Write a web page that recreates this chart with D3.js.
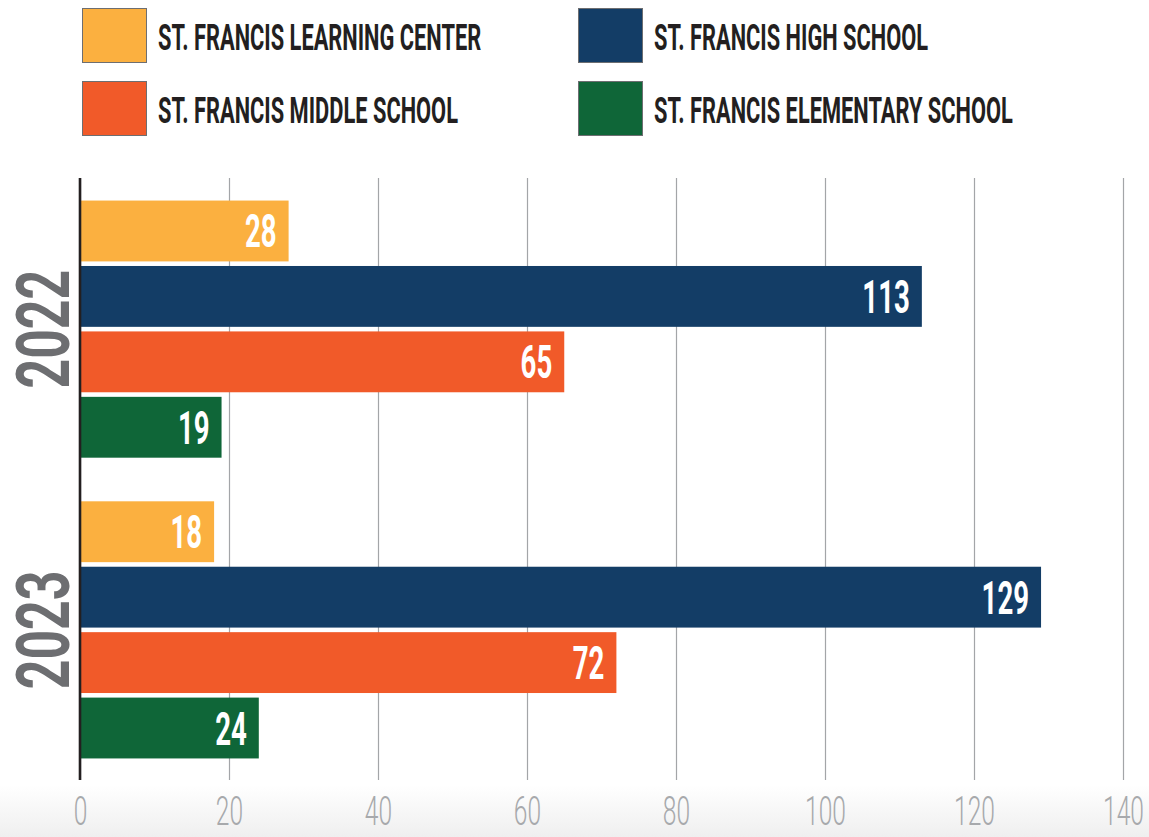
<!DOCTYPE html>
<html>
<head>
<meta charset="utf-8">
<script src="https://cdn.jsdelivr.net/npm/d3@7"></script>
<style>
  html, body { margin: 0; padding: 0; background: #ffffff; }
  svg { display: block; }
</style>
</head>
<body>
<svg id="chart" width="1149" height="837"></svg>
<script>
// chart data
const years = ["2022", "2023"];
const schools = [
  "ST. FRANCIS LEARNING CENTER",
  "ST. FRANCIS HIGH SCHOOL",
  "ST. FRANCIS MIDDLE SCHOOL",
  "ST. FRANCIS ELEMENTARY SCHOOL"
];
const values2022 = [28, 113, 65, 19];
const values2023 = [18, 129, 72, 24];
const xTicks = [0, 20, 40, 60, 80, 100, 120, 140];
const colors = ["#fbb040", "#133d66", "#f15a29", "#0f6638"];

const ctx = {
  width: 1149,
  height: 837,
  left: 80,
  right: 1123,
  top: 178,
  bottom: 780,
  font: "Roboto, 'Open Sans', sans-serif"
};

const svg = d3.select("#chart");

// soft grey fade at the very bottom
const defs = svg.append("defs");
const grad = defs.append("linearGradient")
  .attr("id", "bottomFade")
  .attr("x1", 0).attr("y1", 0).attr("x2", 0).attr("y2", 1);
grad.append("stop").attr("offset", "0%").attr("stop-color", "#ffffff");
grad.append("stop").attr("offset", "100%").attr("stop-color", "#efefef");
svg.append("rect")
  .attr("x", 0).attr("y", 785)
  .attr("width", ctx.width).attr("height", ctx.height - 785)
  .attr("fill", "url(#bottomFade)");

// scales
const xscale = d3.scaleLinear().domain([0, 140]).range([ctx.left, ctx.right]);
const yYear = d3.scaleBand()
  .domain(years)
  .range([ctx.top, ctx.bottom + 1])
  .paddingInner(0.145)
  .paddingOuter(0.075);
const ySchool = d3.scaleBand()
  .domain(schools)
  .range([0, yYear.bandwidth()])
  .paddingInner(0.07)
  .paddingOuter(0);
const color = d3.scaleOrdinal().domain(schools).range(colors);

// grid + tick labels through a bottom axis
const xAxis = svg.append("g")
  .attr("class", "x-axis")
  .attr("transform", "translate(0," + ctx.bottom + ")")
  .call(d3.axisBottom(xscale).tickValues(xTicks).tickSize(-(ctx.bottom - ctx.top)).tickPadding(0));
xAxis.select(".domain").remove();
xAxis.selectAll(".tick line")
  .attr("stroke", "#a3a5a8")
  .attr("stroke-width", 1.2);
xAxis.selectAll(".tick text")
  .attr("y", 45)
  .attr("dy", null)
  .attr("fill", "#a7a9ac")
  .attr("transform", "scale(0.6,1)")
  .style("font-family", ctx.font)
  .style("font-weight", 300)
  .style("font-size", "41px");

// bars
const data = [];
years.forEach(function (yr, i) {
  const vals = i === 0 ? values2022 : values2023;
  schools.forEach(function (s, j) {
    data.push({ year: yr, school: s, value: vals[j] });
  });
});

const bars = svg.append("g").attr("class", "bars");
bars.selectAll("rect")
  .data(data)
  .join("rect")
  .attr("x", xscale(0))
  .attr("y", d => yYear(d.year) + ySchool(d.school))
  .attr("width", d => xscale(d.value) - xscale(0))
  .attr("height", ySchool.bandwidth())
  .attr("fill", d => color(d.school));

// value labels inside the bar end
bars.selectAll("text")
  .data(data)
  .join("text")
  .attr("transform", d =>
    "translate(" + (xscale(d.value) - 12) + "," +
    (yYear(d.year) + ySchool(d.school) + ySchool.bandwidth() / 2 + 16.5) + ") scale(0.6,1)")
  .attr("text-anchor", "end")
  .attr("fill", "#ffffff")
  .style("font-family", ctx.font)
  .style("font-weight", 700)
  .style("font-size", "46px")
  .text(d => d.value);

// axis line
svg.append("line")
  .attr("x1", xscale(0)).attr("x2", xscale(0))
  .attr("y1", ctx.top).attr("y2", ctx.bottom)
  .attr("stroke", "#231f20")
  .attr("stroke-width", 2.6);

// year labels, rotated
svg.append("g").attr("class", "years")
  .selectAll("text")
  .data(years)
  .join("text")
  .attr("transform", d =>
    "translate(" + 68.5 + "," + (yYear(d) + yYear.bandwidth() / 2) + ") rotate(-90) scale(0.7,1)")
  .attr("text-anchor", "middle")
  .attr("fill", "#6d6e71")
  .style("font-family", ctx.font)
  .style("font-weight", 700)
  .style("font-size", "74px")
  .text(d => d);

// legend, two columns by two rows
const legendCols = [82, 578];
const legendRows = [8, 81];
const legendOrder = [
  { school: schools[0], col: 0, row: 0 },
  { school: schools[1], col: 1, row: 0 },
  { school: schools[2], col: 0, row: 1 },
  { school: schools[3], col: 1, row: 1 }
];
const legend = svg.append("g").attr("class", "legend");
const item = legend.selectAll("g")
  .data(legendOrder)
  .join("g")
  .attr("transform", d => "translate(" + legendCols[d.col] + "," + legendRows[d.row] + ")");
item.append("rect")
  .attr("x", 0.5).attr("y", 0.5)
  .attr("width", 64).attr("height", 54)
  .attr("fill", d => color(d.school))
  .attr("stroke", "#6d6e71")
  .attr("stroke-width", 1);
item.append("text")
  .attr("transform", "translate(76,42) scale(0.59,1)")
  .attr("fill", "#231f20")
  .style("font-family", ctx.font)
  .style("font-weight", 700)
  .style("font-size", "37px")
  .text(d => d.school);
</script>
</body>
</html>
